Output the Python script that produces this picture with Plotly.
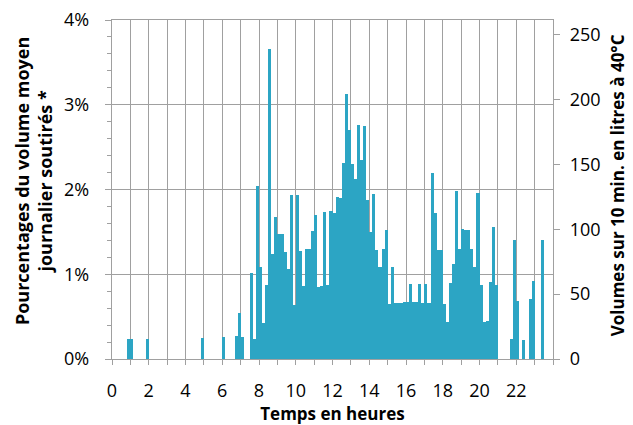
import plotly.graph_objects as go

# 10-minute slots (start hour of each slot)
slot_start_hours = [i / 6 for i in range(144)]

# Percentage of average daily volume drawn per 10-minute slot (%)
pct_values = [
    0, 0, 0, 0, 0, 0.24, 0.24, 0, 0, 0, 0, 0.24,            # 0:00-1:50
    0, 0, 0, 0, 0, 0, 0, 0, 0, 0, 0, 0,                     # 2:00-3:50
    0, 0, 0, 0, 0, 0.25, 0, 0, 0, 0, 0, 0,                  # 4:00-5:50
    0.26, 0, 0, 0, 0.27, 0.54, 0.26, 0, 0, 1.02, 0.24, 2.04,  # 6:00-7:50
    1.09, 0.43, 0.87, 3.66, 1.24, 1.67, 1.47, 1.48, 1.26, 1.06, 1.93, 0.64,  # 8:00-9:50
    1.94, 1.28, 0.86, 1.30, 1.30, 1.51, 1.70, 0.85, 0.86, 1.74, 0.87, 1.75,  # 10:00-11:50
    1.72, 1.91, 1.90, 2.31, 3.13, 2.70, 2.30, 2.12, 2.76, 2.35, 2.75, 1.88,  # 12:00-13:50
    1.50, 1.95, 1.29, 1.08, 1.30, 1.52, 0.65, 1.09, 0.66, 0.66, 0.66, 0.67,  # 14:00-15:50
    0.67, 0.89, 0.67, 0.67, 0.89, 0.66, 0.88, 0.66, 2.20, 1.72, 1.29, 1.29,  # 16:00-17:50
    0.65, 0.44, 0.90, 1.12, 1.98, 1.30, 1.53, 1.52, 1.52, 1.30, 1.08, 1.96,  # 18:00-19:50
    0.87, 0.44, 0.45, 0.91, 1.56, 0.87, 0, 0, 0, 0, 0.24, 1.41,             # 20:00-21:50
    0.68, 0, 0.23, 0, 0.71, 0.92, 0, 0, 1.40, 0, 0, 0,                      # 22:00-23:50
]

left_ticks = [0, 1, 2, 3, 4]
left_ticktext = ["0%", "1%", "2%", "3%", "4%"]
right_ticks = [0, 50, 100, 150, 200, 250]
x_ticks = list(range(25))
x_ticktext = [str(h) if (h % 2 == 0 and h < 24) else "" for h in x_ticks]

FONT = "Open Sans"
BAR = "#2CA5C4"
GRID = "#A0A0A0"

fig = go.Figure()
fig.add_trace(go.Bar(
    x=slot_start_hours,
    y=pct_values,
    width=1 / 6,
    offset=0,
    marker=dict(color=BAR, line=dict(width=0)),
    showlegend=False,
))
# empty trace so the secondary axis is drawn
fig.add_trace(go.Scatter(x=[None], y=[None], yaxis="y2", showlegend=False))

# the page body adds an 8px offset, so the figure is 8px smaller than the window
fig.update_layout(
    width=625, height=417,
    margin=dict(l=104, r=80, t=12, b=66, autoexpand=False),
    paper_bgcolor="white", plot_bgcolor="white",
    bargap=0,
    font=dict(family=FONT, size=18, color="#000000"),
    xaxis=dict(
        range=[0, 24], tickvals=x_ticks, ticktext=x_ticktext, automargin=False,
        showgrid=True, gridcolor=GRID, gridwidth=1.3,
        ticks="outside", ticklen=5, tickcolor=GRID, ticklabelstandoff=10,
        showline=True, linecolor=GRID, linewidth=1.3, mirror=True,
        zeroline=False,
        title=dict(text="<b>Temps en heures</b>", font=dict(size=17), standoff=21),
    ),
    yaxis=dict(
        range=[0, 4], tickvals=left_ticks, ticktext=left_ticktext, automargin=False,
        showgrid=True, gridcolor=GRID, gridwidth=1.3, ticklabeloverflow="allow",
        ticks="outside", ticklen=6, tickcolor=GRID, ticklabelstandoff=12,
        minor=dict(dtick=0.2, ticks="outside", ticklen=4, tickcolor=GRID, showgrid=False),
        showline=True, linecolor=GRID, linewidth=1.3,
        zeroline=False,
    ),
    yaxis2=dict(
        range=[0, 261.3], tickvals=right_ticks, overlaying="y", side="right", automargin=False,
        showgrid=False, ticks="outside", ticklen=6, tickcolor=GRID, ticklabelstandoff=6,
        ticklabeloverflow="allow",
        showline=True, linecolor=GRID, linewidth=1.3, zeroline=False,
    ),
    annotations=[
        dict(text="<b>Pourcentages du volume moyen<br>journalier soutirés *</b>",
             xref="paper", yref="paper", x=-0.179, y=0.525, textangle=-90,
             xanchor="center", yanchor="middle", showarrow=False,
             font=dict(size=18, family=FONT)),
        dict(text="<b>Volumes sur 10 min. en litres à 40°C</b>",
             xref="paper", yref="paper", x=1.147, y=0.512, textangle=-90,
             xanchor="center", yanchor="middle", showarrow=False,
             font=dict(size=17, family=FONT)),
    ],
)

fig.write_html("out.html")
